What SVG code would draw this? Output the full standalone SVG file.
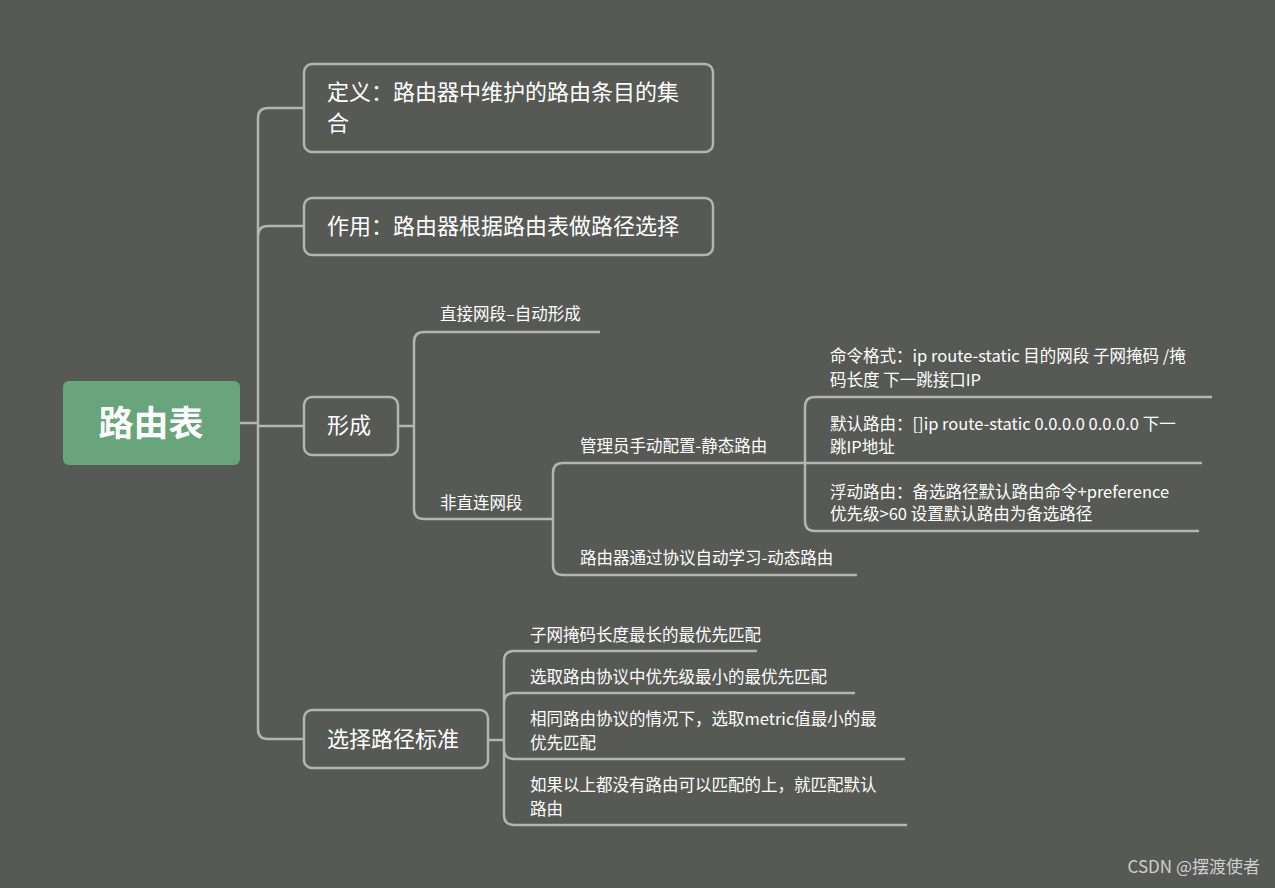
<svg xmlns="http://www.w3.org/2000/svg" width="1275" height="888" viewBox="0 0 1275 888">
<style>
.c{fill:none;stroke:#b4b4b2;stroke-width:2.5}
.b{fill:#575955;stroke:#b4b4b2;stroke-width:2.5}
.t{font-family:"Noto Sans CJK SC","Noto Sans",sans-serif;fill:#fff}
.l{font-size:22px}.s{font-size:16.5px}
</style>
<rect width="1275" height="888" fill="#575955"/>
<g id="connectors">
<path class="c" d="M240,423H258M258,423V118Q258,108 268,108H304M258,226V236Q258,226 268,226H304M258,423V426H304M258,423V729Q258,739 268,739H304"/>
<path class="c" d="M398,426H414M414,426V342Q414,332 424,332H600M414,426V509Q414,519 424,519H553"/>
<path class="c" d="M553,519V473Q553,463 563,463H805M553,519V565Q553,575 563,575H857"/>
<path class="c" d="M805,463V407Q805,397 815,397H1212M805,463H1202M805,463V521Q805,531 815,531H1199"/>
<path class="c" d="M488,740H504M504,740V661Q504,651 514,651H757M504,703Q504,693 514,693H855M504,740V749Q504,759 514,759H905M504,740V815Q504,825 514,825H907M504,661V815"/>
</g>
<g id="root"><rect x="63" y="381" width="177" height="84" rx="6" fill="#68a57b"/><text class="t" x="151" y="436" font-size="35" font-weight="bold" text-anchor="middle">路由表</text></g>
<g id="n1"><rect class="b" x="304" y="64" width="409" height="88" rx="8"/><text class="t l" x="327" y="100">定义：路由器中维护的路由条目的集</text><text class="t l" x="327" y="131">合</text></g>
<g id="n2"><rect class="b" x="304" y="198" width="409" height="57" rx="8"/><text class="t l" x="327" y="234">作用：路由器根据路由表做路径选择</text></g>
<g id="n3"><rect class="b" x="304" y="397" width="94" height="58" rx="8"/><text class="t l" x="327" y="433">形成</text></g>
<g id="n4"><rect class="b" x="304" y="710" width="184" height="58" rx="8"/><text class="t l" x="327" y="747">选择路径标准</text></g>
<g id="leaves" class="t s">
<text x="440" y="320">直接网段–自动形成</text>
<text x="440" y="509">非直连网段</text>
<text x="580" y="452">管理员手动配置-静态路由</text>
<text x="580" y="564">路由器通过协议自动学习-动态路由</text>
<text x="830" y="362">命令格式：ip route-static 目的网段 子网掩码 /掩</text>
<text x="830" y="386">码长度 下一跳接口IP</text>
<text x="830" y="430">默认路由：[]ip route-static  0.0.0.0 0.0.0.0 下一</text>
<text x="830" y="453">跳IP地址</text>
<text x="830" y="498">浮动路由：备选路径默认路由命令+preference</text>
<text x="830" y="520">优先级&gt;60   设置默认路由为备选路径</text>
<text x="530" y="641">子网掩码长度最长的最优先匹配</text>
<text x="530" y="683">选取路由协议中优先级最小的最优先匹配</text>
<text x="530" y="725">相同路由协议的情况下，选取metric值最小的最</text>
<text x="530" y="749">优先匹配</text>
<text x="530" y="791">如果以上都没有路由可以匹配的上，就匹配默认</text>
<text x="530" y="815">路由</text>
</g>
<text class="t" x="1260" y="873" font-size="17" fill="#cfcfcf" style="fill:#cfcfcf" text-anchor="end">CSDN @摆渡使者</text>
</svg>
